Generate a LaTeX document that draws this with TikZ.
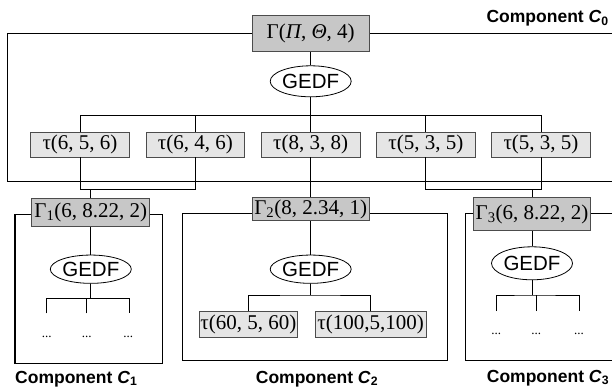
\documentclass[tikz,border=0pt]{standalone}
\usepackage{fontspec}
\setmainfont{Liberation Serif}
\setsansfont{Liberation Sans}
\usetikzlibrary{shapes.geometric}
\tikzset{
	rahmen/.style={line width=1.4pt},
	link/.style={line width=0.8pt},
	gbox/.style={draw=black!70, fill=black!22, line width=0.8pt, inner sep=0pt,
			font=\fontsize{21}{24}\selectfont},
	tbox/.style={draw=black!70, fill=black!10, line width=0.8pt, inner sep=0pt,
			minimum height=25pt, font=\fontsize{21}{24}\selectfont},
	sched/.style={ellipse, draw, line width=0.8pt, inner sep=0pt, minimum width=81pt,
			font=\sffamily\fontsize{20.5}{24}\selectfont},
	punkte/.style={inner sep=0pt, font=\fontsize{13}{15}\selectfont},
	komp/.style={inner sep=0pt, font=\sffamily\bfseries\fontsize{17.5}{20}\selectfont}
}

\begin{document}
\begin{tikzpicture}[x=1pt,y=-1pt]
        \clip (0,0) rectangle (612,390);
        % Rahmen zeichnen
        \draw[rahmen] (7.3,33.3) rectangle (620,181.7);
        \draw[rahmen] (15,214.3) rectangle (162.3,363.3);
        \draw[rahmen] (182.7,213.5) rectangle (447.3,360.7);
        \draw[rahmen] (465.3,213.3) rectangle (620,360.7);
        % Komponente C0
        \node[gbox, minimum width=117pt, minimum height=36pt] (g0) at (310.7,33.8) {Γ(\textit{Π}, \textit{Θ}, 4)};
        \node[sched, minimum height=31pt] (e0) at (310.7,81.3) {GEDF};
        \node[tbox, minimum width=98.5pt] (t1) at (80,144.5) {τ(6, 5, 6)};
        \node[tbox, minimum width=98.5pt] (t2) at (195.3,144.5) {τ(6, 4, 6)};
        \node[tbox, minimum width=98.5pt] (t3) at (310.7,144.5) {τ(8, 3, 8)};
        \node[tbox, minimum width=98.5pt] (t4) at (425.8,144.5) {τ(5, 3, 5)};
        \node[tbox, minimum width=98.5pt] (t5) at (541,144.5) {τ(5, 3, 5)};
        \coordinate (s0) at (310.7,115.7);
        \draw[link] (g0) -- (e0);
        \draw[link] (e0) -- (s0) -- (t3);
        \draw[link] (t1.north) |- (s0) -| (t5.north);
        \draw[link] (t2.north) -- (t2.north |- s0);
        \draw[link] (t4.north) -- (t4.north |- s0);
        \node[komp, anchor=east] (k0) at (609,18.3) {Component \textit{C}\textsubscript{0}};
        % Komponente C1
        \node[gbox, minimum width=118pt, minimum height=28pt] (g1) at (90.8,212.8) {Γ\textsubscript{1}(6, 8.22, 2)};
        \node[sched, minimum height=28.3pt] (e1) at (90.8,269.2) {GEDF};
        \coordinate (u1) at (90.8,189.3);
        \draw[link] (t1.south) |- (t2.south |- u1) -- (t2.south);
        \draw[link] (u1) -- (g1);
        \draw[link] (g1) -- (e1);
        \coordinate (s1) at (90.8,298.3);
        \coordinate (p11) at (46.7,313.3);
        \coordinate (p12) at (86.7,313.3);
        \coordinate (p13) at (129.3,313.3);
        \draw[link] (e1) -- (s1);
        \draw[link] (p11) |- (s1) -| (p13);
        \draw[link] (p12) -- (p12 |- s1);
        \node[punkte] (d11) at (46.7,336.7) {...};
        \node[punkte] (d12) at (86.7,336.7) {...};
        \node[punkte] (d13) at (128.3,336.7) {...};
        \node[komp, anchor=west] (k1) at (15,379) {Component \textit{C}\textsubscript{1}};
        % Komponente C2
        \node[gbox, minimum width=117pt, minimum height=23pt] (g2) at (310.7,209.2) {Γ\textsubscript{2}(8, 2.34, 1)};
        \node[sched, minimum height=28.3pt] (e2) at (310.7,269.2) {GEDF};
        \node[tbox, minimum width=98pt, minimum height=26pt] (t6) at (248.3,324.7) {τ(60, 5, 60)};
        \node[tbox, minimum width=111.3pt, minimum height=26pt] (t7) at (370.7,324.7) {τ(100,5,100)};
        \coordinate (s2) at (310.7,295);
        \draw[link] (t3) -- (g2);
        \draw[link] (g2) -- (e2);
        \draw[link] (e2) -- (s2);
        \draw[link] (t6.north) |- (s2) -| (t7.north);
        \node[komp] (k2) at (317,379) {Component \textit{C}\textsubscript{2}};
        % Komponente C3
        \node[gbox, minimum width=117pt, minimum height=33pt] (g3) at (532,214.2) {Γ\textsubscript{3}(6, 8.22, 2)};
        \node[sched, minimum height=33pt] (e3) at (532,263.3) {GEDF};
        \coordinate (u3) at (532,189.3);
        \draw[link] (t4.south) |- (t5.south |- u3) -- (t5.south);
        \draw[link] (u3) -- (g3);
        \draw[link] (g3) -- (e3);
        \coordinate (s3) at (532,295);
        \coordinate (p31) at (496.3,311);
        \coordinate (p32) at (536.3,311);
        \coordinate (p33) at (579,311);
        \draw[link] (e3) -- (s3);
        \draw[link] (p31) |- (s3) -| (p33);
        \draw[link] (p32) -- (p32 |- s3);
        \node[punkte] (d31) at (496.3,334.3) {...};
        \node[punkte] (d32) at (536.3,334.3) {...};
        \node[punkte] (d33) at (579,334.3) {...};
        \node[komp] (k3) at (548,378) {Component \textit{C}\textsubscript{3}};
    \end{tikzpicture}
\end{document}
